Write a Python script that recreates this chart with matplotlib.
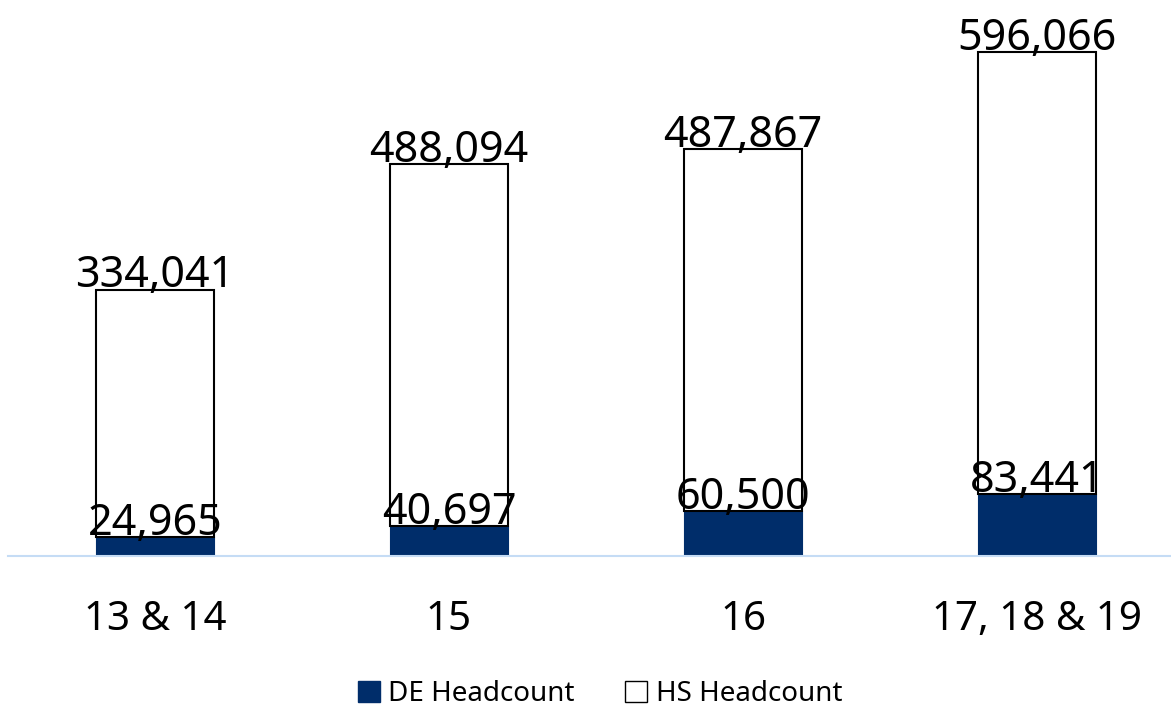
import numpy as np
import matplotlib.pyplot as plt
from matplotlib.patches import Patch

plt.rcParams['font.family'] = ['Noto Sans', 'DejaVu Sans']

groups = ['13 & 14', '15', '16', '17, 18 & 19']
de_headcount = [24965, 40697, 60500, 83441]
hs_headcount = [334041, 488094, 487867, 596066]

navy = '#002d6a'

fig = plt.figure(figsize=(11.71, 7.08), dpi=100)
ax = fig.add_axes([8 / 1171, (708 - 556) / 708, 1176 / 1171, 556 / 708])

x = np.arange(len(groups))
de = np.array(de_headcount)
hs = np.array(hs_headcount)

ax.bar(x, de, width=0.4, color=navy, edgecolor=navy, linewidth=0.8)
ax.bar(x, hs, width=0.4, bottom=de, color='white', edgecolor='black', linewidth=1.5)

for i in range(len(groups)):
    ax.text(x[i], de[i] + 3000, f'{de[i]:,}', ha='center', va='baseline', fontsize=31, color='black')
    ax.text(x[i], de[i] + hs[i] + 3000, f'{hs[i]:,}', ha='center', va='baseline', fontsize=31, color='black')

ax.set_xlim(-0.5, 3.5)
ax.set_ylim(0, 749600)
ax.set_yticks([])
ax.set_xticks(x)
ax.set_xticklabels(groups, fontsize=29)
ax.tick_params(axis='x', length=0, pad=32)
for s in ['top', 'right', 'left']:
    ax.spines[s].set_visible(False)
ax.spines['bottom'].set_color('#c5dcf5')
ax.spines['bottom'].set_linewidth(1.5)

handles = [Patch(facecolor=navy, edgecolor=navy, label='DE Headcount'),
           Patch(facecolor='white', edgecolor='black', label='HS Headcount')]
fig.legend(handles=handles, loc='center', bbox_to_anchor=(600 / 1171, 1 - 694 / 708), ncol=2,
           frameon=False, fontsize=20, handlelength=0.8, handleheight=0.8, handletextpad=0.3,
           columnspacing=1.8)

fig.savefig('out.png', dpi=100)
